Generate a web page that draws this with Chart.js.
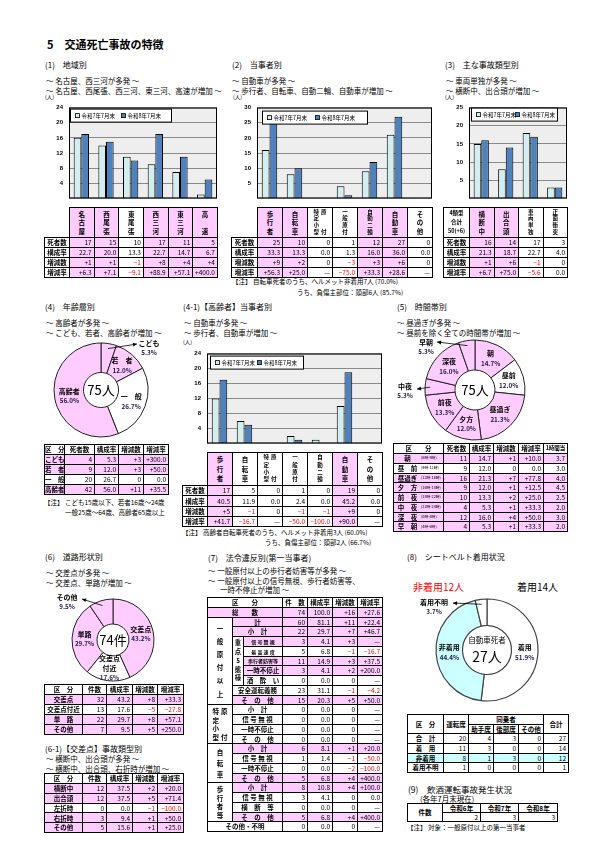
<!DOCTYPE html>
<html lang="ja">
<head>
<meta charset="utf-8">
<title>交通死亡事故の特徴</title>
<script src="https://cdn.jsdelivr.net/npm/chart.js@4.4.1/dist/chart.umd.min.js"></script>
<style>
html, body { margin: 0; padding: 0; background: #fff; }
#page { position: relative; width: 604px; height: 852px; overflow: hidden; font-family: "Noto Sans CJK JP", "Noto Sans", sans-serif; color: #000; }
.t { position: absolute; white-space: nowrap; line-height: 1; }
canvas { position: absolute; }
table.g { position: absolute; border-collapse: collapse; table-layout: fixed; font-size: 6.5px; line-height: 1; }
table.g td { border: 1px solid #000; padding: 0 2px 0 0; text-align: right; vertical-align: middle; white-space: nowrap; overflow: hidden; }
table.g td.l { text-align: center; padding: 0; font-weight: bold; }
table.g td.n { border: none; }
table.g td.pk { background: #ffccff; }
table.g td.cy { background: #ccffff; }
table.g td.neg { color: #f00; }
.vw { display: flex; justify-content: center; gap: 2px; }
.vc { display: flex; flex-direction: column; justify-content: space-evenly; align-items: center; height: 100%; }
.vc span { display: block; line-height: 1; }
</style>
</head>
<body>
<div id="page"></div>
<script>
Chart.defaults.font.family = '"Noto Sans CJK JP", "Noto Sans", sans-serif';
Chart.defaults.color = '#000';

const series = ['令和7年7月末', '令和8年7月末'];

// (1) 地域別
const areaLabels = ['名古屋', '西尾張', '東尾張', '西三河', '東三河', '高　速'];
const area7 = [16, 14, 11, 9, 7, 1];
const area8 = [17, 15, 10, 17, 11, 5];
const areaShare = ['22.7', '20.0', '13.3', '22.7', '14.7', '6.7'];
const areaDiff = ['+1', '+1', '−1', '+8', '+4', '+4'];
const areaRate = ['+6.3', '+7.1', '−9.1', '+88.9', '+57.1', '+400.0'];

// (2) 当事者別
const partyLabels = ['歩行者', '自転車', '特定小型|原　　付', '一般原付', '自動二輪', '自動車', 'その他'];
const party7 = [16, 8, 0, 4, 9, 21, 0];
const party8 = [25, 10, 0, 1, 12, 27, 0];
const partyShare = ['33.3', '13.3', '0.0', '1.3', '16.0', '36.0', '0.0'];
const partyDiff = ['+9', '+2', '0', '−3', '+3', '+6', '0'];
const partyRate = ['+56.3', '+25.0', '—', '−75.0', '+33.3', '+28.6', '—'];

// (3) 主な事故類型別
const typeLabels = ['横断中', '出合頭', '車両単独', '正面衝突'];
const type7 = [15, 8, 18, 3];
const type8 = [16, 14, 17, 3];
const typeShare = ['21.3', '18.7', '22.7', '4.0'];
const typeDiff = ['+1', '+6', '−1', '0'];
const typeRate = ['+6.7', '+75.0', '−5.6', '0.0'];

// (4) 年齢層別
const ageLabels = ['こども', '若　者', '一　般', '高齢者'];
const ageDeaths = [4, 9, 20, 42];
const ageShare = ['5.3', '12.0', '26.7', '56.0'];
const ageDiff = ['+3', '+3', '0', '+11'];
const ageRate = ['+300.0', '+50.0', '0.0', '+35.5'];

// (4-1) 高齢者 当事者別
const eld7 = [12, 6, 0, 2, 1, 10, 0];
const eld8 = [17, 5, 0, 1, 0, 19, 0];
const eldShare = ['40.5', '11.9', '0.0', '2.4', '0.0', '45.2', '0.0'];
const eldDiff = ['+5', '−1', '0', '−1', '−1', '+9', '0'];
const eldRate = ['+41.7', '−16.7', '—', '−50.0', '−100.0', '+90.0', '—'];

// (5) 時間帯別
const timeLabels = ['朝', '昼　前', '昼過ぎ', '夕　方', '前　夜', '中　夜', '深　夜', '早　朝'];
const timeRanges = ['6時-9時', '9時-12時', '12時-16時', '16時-18時', '18時-22時', '22時-24時', '0時-4時', '4時-6時'];
const timeDeaths = [11, 9, 16, 9, 10, 4, 12, 4];
const timeShare = ['14.7', '12.0', '21.3', '12.0', '13.3', '5.3', '16.0', '5.3'];
const timeDiff = ['+1', '0', '+7', '+1', '+2', '+1', '+4', '+1'];
const timeRate = ['+10.0', '0.0', '+77.8', '+12.5', '+25.0', '+33.3', '+50.0', '+33.3'];
const timePerHour = ['3.7', '3.0', '4.0', '4.5', '2.5', '2.0', '3.0', '2.0'];

// (6) 道路形状別
const roadLabels = ['交差点', '交差点付近', '単　路', 'その他'];
const roadRing = ['交差点', '交差点|付近', '単路', 'その他'];
const roadCount = [32, 13, 22, 7];
const roadShare = ['43.2', '17.6', '29.7', '9.5'];
const roadDiff = ['+8', '−5', '+8', '+5'];
const roadRate = ['+33.3', '−27.8', '+57.1', '+250.0'];

// (6-1) 交差点 事故類型別
const crossLabels = ['横断中', '出合頭', '左折時', '右折時', 'その他'];
const crossCount = [12, 12, 0, 3, 5];
const crossShare = ['37.5', '37.5', '0.0', '9.4', '15.6'];
const crossDiff = ['+2', '+5', '−1', '+1', '+1'];
const crossRate = ['+20.0', '+71.4', '−100.0', '+50.0', '+25.0'];

// (7) 法令違反別
const lawLabels = ['総　　数', '計', '小　計', '信 号 無 視', '最 高 速 度', '歩行者妨害等', '一時不停止', '酒　酔　い', '安全運転義務', 'そ　の　他',
  '小　計', '信 号 無 視', '一時不停止', 'そ　の　他',
  '小　計', '信 号 無 視', '一時不停止', 'そ　の　他',
  '小　計', '信 号 無 視', '横　断　等', 'そ　の　他', 'その他・不明'];
const lawCount = [74, 60, 22, 3, 5, 11, 3, 0, 23, 15, 0, 0, 0, 0, 6, 1, 0, 5, 8, 3, 0, 5, 0];
const lawShare = ['100.0', '81.1', '29.7', '4.1', '6.8', '14.9', '4.1', '0.0', '31.1', '20.3', '0.0', '0.0', '0.0', '0.0', '8.1', '1.4', '0.0', '6.8', '10.8', '4.1', '0.0', '6.8', '0.0'];
const lawDiff = ['+16', '+11', '+7', '+3', '−1', '+3', '+2', '0', '−1', '+5', '0', '0', '0', '0', '+1', '−1', '−2', '+4', '+4', '0', '0', '+4', '0'];
const lawRate = ['+27.6', '+22.4', '+46.7', '—', '−16.7', '+37.5', '+200.0', '—', '−4.2', '+50.0', '—', '—', '—', '—', '+20.0', '−50.0', '−100.0', '+400.0', '+100.0', '0.0', '—', '+400.0', '—'];
const lawGroups = [
  { name: '一般原付以上', from: 1, n: 9 },
  { name: '特定小型|原　　付', from: 10, n: 4 },
  { name: '自転車', from: 14, n: 4 },
  { name: '歩行者等', from: 18, n: 4 }
];
const lawSub = { name: '重点5態様', from: 3, n: 5 };

// (8) シートベルト着用状況
const beltLabels = ['合　計', '着　用', '非着用', '着用不明'];
const beltDriver = [20, 11, 8, 1];
const beltFront = [4, 3, 1, 0];
const beltRear = [3, 0, 3, 0];
const beltOther = [0, 0, 0, 0];
const beltTotal = [27, 14, 12, 1];
const beltShare = ['', '51.9', '44.4', '3.7'];

// (9) 飲酒運転事故
const duiYears = ['令和6年', '令和7年', '令和8年'];
const duiCount = [2, 3, 3];

const C7 = '#d3eeee', C8 = '#4f81bd', PINK = '#ffccff', CYAN = '#ccffff', WHITE = '#ffffff';
const page = document.getElementById('page');

function txt(x, y, s, size, style) {
  const d = document.createElement('div');
  d.className = 't';
  d.style.left = x + 'px';
  d.style.top = (y - size / 2) + 'px';
  d.style.fontSize = size + 'px';
  if (style) Object.assign(d.style, style);
  d.innerHTML = s;
  page.appendChild(d);
}

function mkCanvas(x, y, w, h) {
  const c = document.createElement('canvas');
  c.width = w; c.height = h;
  c.style.left = x + 'px'; c.style.top = y + 'px';
  c.style.width = w + 'px'; c.style.height = h + 'px';
  page.appendChild(c);
  return c;
}

function isUp(d) { return String(d).charAt(0) === '+'; }

function val(t, up) {
  let c = up ? 'pk' : '';
  if (String(t).charAt(0) === '−') c += ' neg';
  return { t: String(t), c: c };
}

function vlabel(s, h, fs) {
  const cols = s.split('|');
  const size = fs || (Math.max(...cols.map(c => c.length)) >= 4 ? 5.5 : 6.5);
  return '<div class="vw" style="height:' + (h - 2) + 'px;font-size:' + size + 'px">' +
    cols.map(c => '<div class="vc">' + [...c].map(ch => '<span>' + ch + '</span>').join('') + '</div>').join('') + '</div>';
}

function table(x, y, widths, heights, rows) {
  const tb = document.createElement('table');
  tb.className = 'g';
  tb.style.left = x + 'px';
  tb.style.top = y + 'px';
  tb.style.width = widths.reduce((a, b) => a + b, 0) + 'px';
  let h = '<colgroup>' + widths.map(w => '<col style="width:' + w + 'px">').join('') + '</colgroup>';
  rows.forEach((r, i) => {
    h += '<tr style="height:' + heights[i] + 'px">';
    r.forEach(c => {
      h += '<td class="' + (c.c || '') + '"' + (c.cs ? ' colspan="' + c.cs + '"' : '') + (c.rs ? ' rowspan="' + c.rs + '"' : '') +
        (c.s ? ' style="' + c.s + '"' : '') + '>' + (c.h || c.t || '') + '</td>';
    });
    h += '</tr>';
  });
  tb.innerHTML = h;
  page.appendChild(tb);
}

// plot area background, frame and boxed legend
const frame = {
  id: 'frame',
  beforeDraw(c) {
    const a = c.chartArea, x = c.ctx;
    x.save();
    x.fillStyle = '#eeeeee';
    x.fillRect(a.left, a.top, a.right - a.left, a.bottom - a.top);
    x.restore();
  },
  afterDraw(c, args, o) {
    const a = c.chartArea, x = c.ctx;
    x.save();
    x.strokeStyle = '#000'; x.lineWidth = 1;
    x.strokeRect(a.left + 0.5, a.top + 0.5, a.right - a.left - 1, a.bottom - a.top - 1);
    const lx = a.left + o.lg[0] + 0.5, ly = a.top + o.lg[1] + 0.5, lw = o.lg[2], lh = 13;
    x.fillStyle = '#fff';
    x.fillRect(lx, ly, lw, lh);
    x.strokeRect(lx, ly, lw, lh);
    x.font = '5.5px "Noto Sans CJK JP"';
    x.textBaseline = 'middle'; x.textAlign = 'left';
    const step = (lw - 8) / 2;
    c.data.datasets.forEach((d, i) => {
      const ix = Math.round(lx + 4 + i * step) + 0.5;
      x.fillStyle = d.backgroundColor;
      x.fillRect(ix, ly + 4.5, 4, 4);
      x.lineWidth = 0.8;
      x.strokeRect(ix, ly + 4.5, 4, 4);
      x.fillStyle = '#000';
      x.fillText(d.label, ix + 6, ly + lh / 2 + 0.5);
    });
    x.restore();
  }
};

function barSection(o) {
  const [l, t, r, b] = o.plot;
  const cv = mkCanvas(l - 26, t - 6, r - l + 27, b - t + 7);
  new Chart(cv, {
    type: 'bar',
    data: {
      labels: o.labels.map(s => s.replace('|', '').replace(/　/g, '')),
      datasets: [
        { label: series[0], data: o.s7, backgroundColor: C7, borderColor: '#000', borderWidth: 1, categoryPercentage: 0.62, barPercentage: 1 },
        { label: series[1], data: o.s8, backgroundColor: C8, borderColor: '#000', borderWidth: 1, categoryPercentage: 0.62, barPercentage: 1 }
      ]
    },
    options: {
      responsive: false, animation: false, events: [],
      layout: { padding: { top: 6, right: 1, bottom: 1, left: 0 } },
      scales: {
        x: { display: false },
        y: {
          min: 0, max: o.ymax,
          afterFit: s => { s.width = 26; },
          ticks: { stepSize: o.step, padding: 6, color: '#000', font: { size: 6, weight: 'bold', family: '"Liberation Sans", Arial, sans-serif' }, callback: v => v === 0 ? '' : v },
          grid: { color: '#8a8a8a', drawTicks: false },
          border: { display: false }
        }
      },
      plugins: { legend: { display: false }, tooltip: { enabled: false }, frame: { lg: o.lg } }
    },
    plugins: [frame]
  });

  const n = o.labels.length, cw = (r - l) / n;
  const up = o.diff.map(isUp);
  const widths = [l - o.labX].concat(Array(n).fill(cw));
  const rows = [];
  rows.push([o.corner ? o.corner : { c: 'n' }].concat(o.labels.map((s, i) => ({ h: vlabel(s, o.labH), c: 'l' + (up[i] ? ' pk' : '') }))));
  [['死者数', o.s8], ['構成率', o.share], ['増減数', o.diff], ['増減率', o.rate]].forEach(([name, vals]) => {
    rows.push([{ t: name, c: 'l' }].concat(vals.map((v, i) => val(v, up[i]))));
  });
  table(o.labX, b, widths, [o.labH].concat(Array(4).fill(o.rowH)), rows);
}

// ring labels, leader arrows and centre text
const ringText = {
  id: 'ringText',
  afterDraw(c, args, o) {
    const x = c.ctx, arcs = c.getDatasetMeta(0).data;
    const cx = arcs[0].x, cy = arcs[0].y;
    x.save();
    x.textAlign = 'center'; x.textBaseline = 'middle';
    const put = (lines, px, py) => {
      lines.forEach((s, k) => {
        const last = k === lines.length - 1;
        x.font = 'bold ' + (last ? 6.3 : 7) + 'px "Noto Sans CJK JP"';
        x.fillStyle = last ? '#1c1c4a' : '#000';
        x.fillText(s, px, py + (k - (lines.length - 1) / 2) * o.gap);
      });
    };
    arcs.forEach((arc, i) => {
      const mid = (arc.startAngle + arc.endAngle) / 2;
      const p = o.out && o.out[i];
      if (p) {
        const rr = arc.outerRadius - 5;
        const sx = cx + Math.cos(mid) * rr, sy = cy + Math.sin(mid) * rr;
        const ex = cx + p.ax, ey = cy + p.ay;
        x.strokeStyle = '#000'; x.lineWidth = 0.8;
        x.beginPath(); x.moveTo(sx, sy); x.lineTo(ex, ey); x.stroke();
        const ang = Math.atan2(ey - sy, ex - sx);
        x.fillStyle = '#000';
        x.beginPath();
        x.moveTo(ex, ey);
        x.lineTo(ex - 4.5 * Math.cos(ang - 0.45), ey - 4.5 * Math.sin(ang - 0.45));
        x.lineTo(ex - 4.5 * Math.cos(ang + 0.45), ey - 4.5 * Math.sin(ang + 0.45));
        x.closePath(); x.fill();
        put(o.lines[i], cx + p.tx, cy + p.ty + (o.lines[i].length - 1) / 2 * o.gap);
      } else {
        const rr = (arc.innerRadius + arc.outerRadius) / 2;
        put(o.lines[i], cx + Math.cos(mid) * rr, cy + Math.sin(mid) * rr);
      }
    });
    (o.center || []).forEach(t => {
      x.font = t.size + 'px "Noto Sans CJK JP"';
      x.fillStyle = '#000';
      x.fillText(t.t, cx, cy + t.dy);
    });
    x.restore();
  }
};

function donut(o) {
  const cv = mkCanvas(o.cx - o.w / 2, o.cy - o.h / 2, o.w, o.h);
  new Chart(cv, {
    type: 'doughnut',
    data: { labels: o.names, datasets: [{ data: o.values, backgroundColor: o.colors, borderColor: o.border || '#222', borderWidth: o.bw || 1 }] },
    options: {
      responsive: false, animation: false, events: [],
      radius: o.r, cutout: (o.cut / o.r * 100) + '%',
      plugins: { legend: { display: false }, tooltip: { enabled: false }, ringText: { lines: o.lines, out: o.out, center: o.center, gap: o.gap || 10 } }
    },
    plugins: [ringText]
  });
}

const sum = a => a.reduce((p, q) => p + q, 0);

// ---------- texts ----------
txt(47, 44, '5　交通死亡事故の特徴', 11, { fontWeight: 'bold' });

txt(45, 65, '(1)　地域別', 8);
txt(46, 81, '～ 名古屋、西三河が多発 ～', 7.5);
txt(46, 90.5, '～ 名古屋、西尾張、西三河、東三河、高速が増加 ～', 7.5);
txt(45, 97.5, '(人)', 5.5);

txt(232, 65, '(2)　当事者別', 8);
txt(232, 81, '～ 自動車が多発 ～', 7.5);
txt(232, 90.5, '～ 歩行者、自転車、自動二輪、自動車が増加 ～', 7.5);
txt(233, 98, '(人)', 5.5);
txt(232, 281, '【注】 自転車死者のうち、ヘルメット非着用7人 (70.0%)', 6.5);
txt(297, 292, 'うち、負傷主部位：頭部6人 (85.7%)', 6.5);

txt(445, 65, '(3)　主な事故類型別', 8);
txt(446, 81, '～ 車両単独が多発 ～', 7.5);
txt(446, 90.5, '～ 横断中、出合頭が増加 ～', 7.5);
txt(445, 98, '(人)', 5.5);

txt(45, 307, '(4)　年齢層別', 8);
txt(46, 323, '～ 高齢者が多発 ～', 7.5);
txt(46, 333, '～ こども、若者、高齢者が増加 ～', 7.5);
txt(44, 502, '【注】 こども15歳以下、若者16歳～24歳', 6.5);
txt(65, 512, '一般25歳～64歳、高齢者65歳以上', 6.5);

txt(183, 307, '(4-1)【高齢者】当事者別', 8);
txt(184, 323, '～ 自動車が多発 ～', 7.5);
txt(184, 333, '～ 歩行者、自動車が増加 ～', 7.5);
txt(183, 343, '(人)', 5.5);
txt(182, 532, '【注】 高齢者自転車死者のうち、ヘルメット非着用3人 (60.0%)', 6.5);
txt(265, 542, 'うち、負傷主部位：頭部2人 (66.7%)', 6.5);

txt(397, 307, '(5)　時間帯別', 8);
txt(397, 323, '～ 昼過ぎが多発 ～', 7.5);
txt(397, 333, '～ 昼前を除く全ての時間帯が増加 ～', 7.5);

txt(45, 557, '(6)　道路形状別', 8);
txt(46, 573, '～ 交差点が多発 ～', 7.5);
txt(46, 583, '～ 交差点、単路が増加 ～', 7.5);

txt(45, 749, '(6-1)【交差点】事故類型別', 8);
txt(46, 759, '～ 横断中、出合頭が多発 ～', 7.5);
txt(46, 769, '～ 横断中、出合頭、右折時が増加 ～', 7.5);

txt(208, 558, '(7)　法令違反別(第一当事者)', 8);
txt(208, 571, '～ 一般原付以上の歩行者妨害等が多発 ～', 7.5);
txt(208, 580.5, '～ 一般原付以上の信号無視、歩行者妨害等、', 7.5);
txt(220, 590, '一時不停止が増加 ～', 7.5);

txt(407, 557, '(8)　シートベルト着用状況', 8);
txt(413, 587, '非着用' + beltTotal[2] + '人', 10, { color: '#f00' });
txt(517, 587, '着用' + beltTotal[1] + '人', 10);

txt(408, 789, '(9)　飲酒運転事故発生状況', 8.5);
txt(420, 798.5, '(各年7月末現在)', 7.5);
txt(407, 827, '【注】 対象：一般原付以上の第一当事者', 6.5);

// ---------- bar charts ----------
barSection({ plot: [69, 104, 217, 207], ymax: 24, step: 4, lg: [1, 1, 101], labels: areaLabels, s7: area7, s8: area8,
  share: areaShare, diff: areaDiff, rate: areaRate, labX: 44, labH: 30, rowH: 10 });
barSection({ plot: [257, 104, 432, 207], ymax: 30, step: 5, lg: [5, 3, 105], labels: partyLabels, s7: party7, s8: party8,
  share: partyShare, diff: partyDiff, rate: partyRate, labX: 231, labH: 30, rowH: 10 });
barSection({ plot: [469, 104, 567, 207], ymax: 25, step: 5, lg: [2, 0, 86], labels: typeLabels, s7: type7, s8: type8,
  share: typeShare, diff: typeDiff, rate: typeRate, labX: 443, labH: 30, rowH: 10,
  corner: { h: '4類型<br>合計<br>' + sum(type8) + '(+' + (sum(type8) - sum(type7)) + ')', c: 'l', s: 'font-size:5.5px;line-height:9px' } });
barSection({ plot: [207, 350, 382, 452], ymax: 24, step: 4, lg: [3, 2, 93], labels: partyLabels, s7: eld7, s8: eld8,
  share: eldShare, diff: eldDiff, rate: eldRate, labX: 182, labH: 33, rowH: 10.25 });

// ---------- (4) 年齢層別 ----------
donut({ cx: 101, cy: 390, w: 162, h: 110, r: 47, cut: 17.5, names: ageLabels, values: ageDeaths,
  colors: ageDiff.map(d => isUp(d) ? PINK : WHITE),
  lines: ageLabels.map((n, i) => [n, ageShare[i] + '%']),
  out: { 0: { tx: 48, ty: -47, ax: 36, ay: -46 } },
  center: [{ t: sum(ageDeaths) + '人', size: 13, dy: 0 }] });
{
  const up = ageDiff.map(isUp);
  const rows = [[{ t: '区　分', c: 'l' }, { t: '死者数', c: 'l' }, { t: '構成率', c: 'l' }, { t: '増減数', c: 'l' }, { t: '増減率', c: 'l' }]];
  ageLabels.forEach((n, i) => rows.push([{ t: n, c: 'l' + (up[i] ? ' pk' : '') }, val(ageDeaths[i], up[i]), val(ageShare[i], up[i]), val(ageDiff[i], up[i]), val(ageRate[i], up[i])]));
  table(44, 444, [20, 30, 24, 25, 25], [10, 10, 10, 10, 10], rows);
}

// ---------- (5) 時間帯別 ----------
donut({ cx: 475, cy: 390, w: 160, h: 110, r: 50, cut: 20, names: timeLabels, values: timeDeaths,
  colors: timeDiff.map(d => isUp(d) ? PINK : WHITE),
  lines: timeLabels.map((n, i) => [n.replace(/　/g, ''), timeShare[i] + '%']),
  out: { 5: { tx: -70, ty: -4, ax: -58, ay: -1 }, 7: { tx: -49, ty: -48, ax: -38, ay: -48 } },
  center: [{ t: sum(timeDeaths) + '人', size: 13, dy: 0 }] });
{
  const up = timeDiff.map(isUp);
  const rows = [[{ t: '区　　分', c: 'l' }, { t: '死者数', c: 'l' }, { t: '構成率', c: 'l' }, { t: '増減数', c: 'l' }, { t: '増減率', c: 'l' }, { t: '1時間当', c: 'l', s: 'font-size:5.5px' }]];
  timeLabels.forEach((n, i) => rows.push([
    { h: '<div style="display:flex;align-items:center"><span style="width:27px;text-align:center">' + n + '</span><span style="font-size:3.8px;font-weight:normal">(' + timeRanges[i] + ')</span></div>', c: 'l' + (up[i] ? ' pk' : '') },
    val(timeDeaths[i], up[i]), val(timeShare[i], up[i]), val(timeDiff[i], up[i]), val(timeRate[i], up[i]), val(timePerHour[i], up[i])]));
  table(393, 443, [50, 26, 24, 25, 25, 24], [10].concat(Array(8).fill(9.75)), rows);
}

// ---------- (6) 道路形状別 ----------
donut({ cx: 113, cy: 640, w: 140, h: 100, r: 41, cut: 16, names: roadLabels, values: roadCount,
  colors: roadDiff.map(d => isUp(d) ? PINK : WHITE),
  lines: roadRing.map((n, i) => n.split('|').concat(roadShare[i] + '%')),
  out: { 3: { tx: -46, ty: -43, ax: -31, ay: -41 } }, gap: 9.5,
  center: [{ t: sum(roadCount) + '件', size: 13, dy: 0 }] });
function smallTable(y, labels, counts, share, diff, rate, rh) {
  const up = diff.map(isUp);
  const rows = [[{ t: '区　分', c: 'l' }, { t: '件数', c: 'l' }, { t: '構成率', c: 'l' }, { t: '増減数', c: 'l' }, { t: '増減率', c: 'l' }]];
  labels.forEach((n, i) => rows.push([{ t: n, c: 'l' + (up[i] ? ' pk' : '') }, val(counts[i], up[i]), val(share[i], up[i]), val(diff[i], up[i]), val(rate[i], up[i])]));
  table(44, y, [38, 24, 26, 25, 26], [10].concat(Array(labels.length).fill(rh)), rows);
}
smallTable(684, roadLabels, roadCount, roadShare, roadDiff, roadRate, 10);
smallTable(773, crossLabels, crossCount, crossShare, crossDiff, crossRate, 9.8);

// ---------- (7) 法令違反別 ----------
{
  const rh = 9.75;
  const rows = [[{ t: '区　　分', cs: 3, c: 'l' }, { t: '件　数', c: 'l' }, { t: '構成率', c: 'l' }, { t: '増減数', c: 'l' }, { t: '増減率', c: 'l' }]];
  lawLabels.forEach((name, i) => {
    const up = isUp(lawDiff[i]);
    const r = [];
    const g = lawGroups.find(q => q.from === i);
    const inGroup = lawGroups.some(q => i >= q.from && i < q.from + q.n);
    const inSub = i >= lawSub.from && i < lawSub.from + lawSub.n;
    if (g) r.push({ h: vlabel(g.name, g.n * rh, 6.5), rs: g.n, c: 'l' });
    if (i === lawSub.from) r.push({ h: vlabel(lawSub.name, lawSub.n * rh, 6.3), rs: lawSub.n, c: 'l' });
    const cs = inSub ? 1 : (inGroup ? 2 : 3);
    r.push({ t: name, cs: cs > 1 ? cs : 0, c: 'l' + (up ? ' pk' : ''), s: name.length >= 6 && cs === 1 ? 'font-size:5px' : '' });
    r.push(val(lawCount[i], up), val(lawShare[i], up), val(lawDiff[i], up), val(lawRate[i], up));
    rows.push(r);
  });
  table(207, 597, [25, 11, 39, 25, 25, 25, 25], Array(24).fill(rh), rows);
}

// ---------- (8) シートベルト着用状況 ----------
donut({ cx: 487, cy: 650, w: 154, h: 110, r: 51, cut: 24.5, names: beltLabels.slice(1), values: beltTotal.slice(1),
  colors: [WHITE, CYAN, WHITE], border: '#444', bw: 1.2,
  lines: beltLabels.slice(1).map((n, i) => [n.replace(/　/g, ''), beltShare[i + 1] + '%']),
  out: { 2: { tx: -53, ty: -48, ax: -34, ay: -47 } },
  center: [{ t: '自動車死者', size: 7.5, dy: -10 }, { t: beltTotal[0] + '人', size: 14, dy: 7 }] });
{
  const rows = [
    [{ t: '区　分', rs: 2, c: 'l' }, { t: '運転席', rs: 2, c: 'l' }, { t: '同乗者', cs: 3, c: 'l' }, { t: '合計', rs: 2, c: 'l' }],
    [{ t: '助手席', c: 'l' }, { t: '後部席', c: 'l' }, { t: 'その他', c: 'l' }]
  ];
  beltLabels.forEach((n, i) => {
    const cy = i === 2 ? ' cy' : '';
    rows.push([{ t: n, c: 'l' + cy }].concat([beltDriver[i], beltFront[i], beltRear[i], beltOther[i], beltTotal[i]].map(v => ({ t: String(v), c: cy }))));
  });
  table(407, 714, [36, 25, 25, 25, 25, 25], [10, 9, 10, 10, 9, 10], rows);
}

// ---------- (9) 飲酒運転 ----------
table(407, 803, [35, 38, 38, 39], [9, 9], [
  [{ t: '件数', rs: 2, c: 'l' }].concat(duiYears.map(y => ({ t: y, c: 'l' }))),
  duiCount.map(v => ({ t: String(v) }))
]);
</script>
</body>
</html>
